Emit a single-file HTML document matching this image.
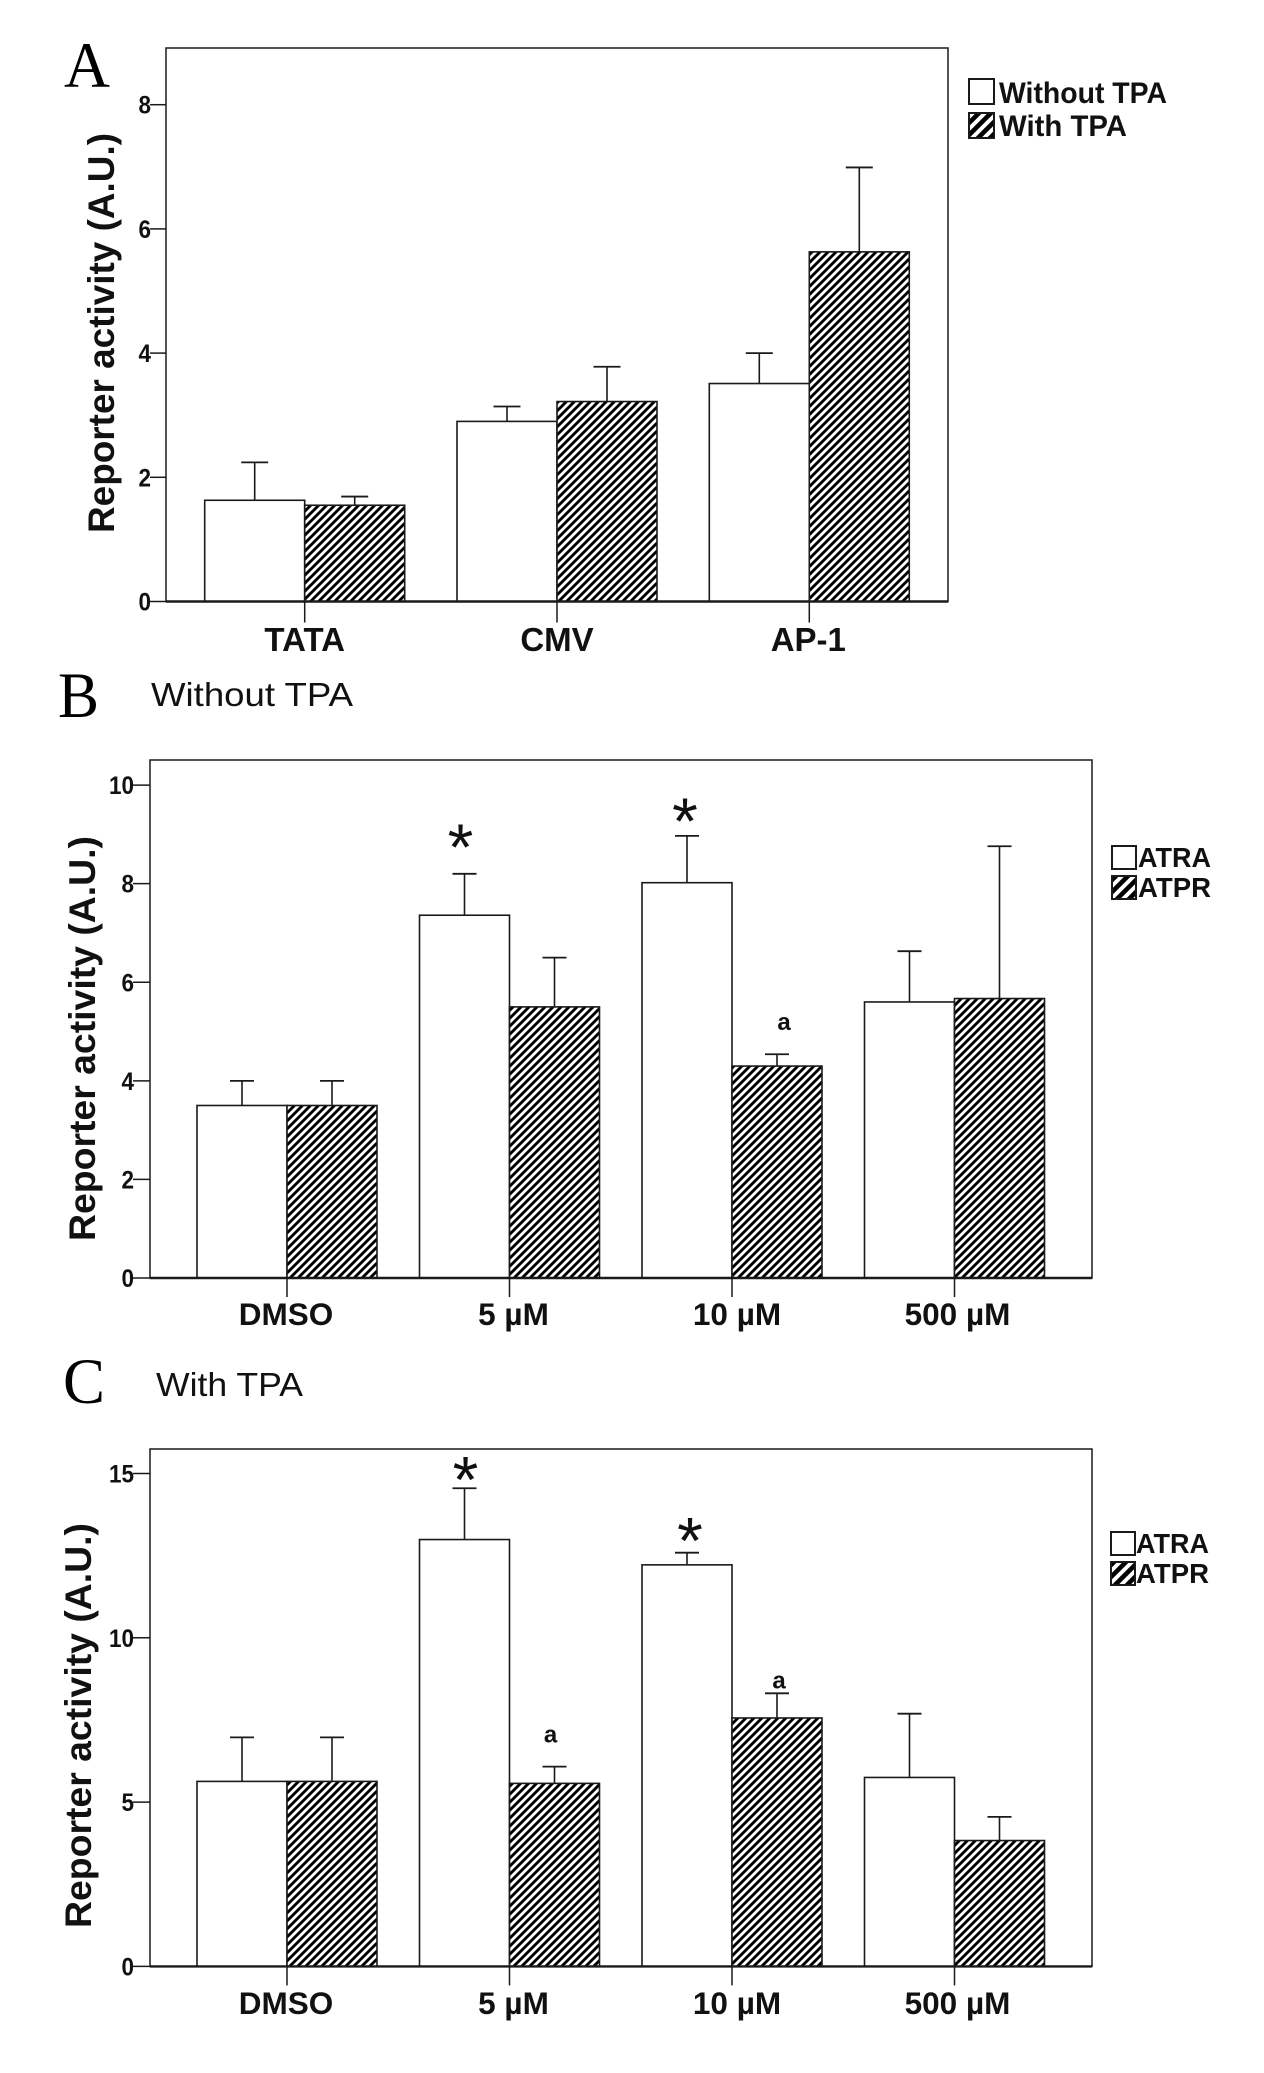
<!DOCTYPE html>
<html lang="en">
<head>
<meta charset="utf-8">
<title>Reporter activity chart</title>
<style>
html,body{margin:0;padding:0;background:#fff;width:1264px;height:2073px;overflow:hidden}
svg{display:block}
text{font-family:"Liberation Sans",Arial,sans-serif;fill:#111}
.bold{font-weight:700}
.serif{font-family:"Liberation Serif","Times New Roman",serif;fill:#000}
</style>
</head>
<body>
<svg id="figure" xmlns="http://www.w3.org/2000/svg" width="1264" height="2073" viewBox="0 0 1264 2073">
  <defs>
    <pattern id="hatch" patternUnits="userSpaceOnUse" width="8" height="8" patternTransform="rotate(0)">
      <rect width="8" height="8" fill="#fff"/>
      <path d="M-2,2 L2,-2 M-2,10 L10,-2 M6,10 L10,6" stroke="#000" stroke-width="2.9" fill="none"/>
    </pattern>
    <pattern id="hatch-legend" patternUnits="userSpaceOnUse" width="12" height="12">
      <rect width="12" height="12" fill="#fff"/>
      <path d="M-3,3 L3,-3 M-3,15 L15,-3 M9,15 L15,9" stroke="#000" stroke-width="4.6" fill="none"/>
    </pattern>
  </defs>
  <g id="panel-a"></g>
  <g id="panel-b"></g>
  <g id="panel-c"></g>

  <text class="serif" x="64" y="87" font-size="65" textLength="46" lengthAdjust="spacingAndGlyphs">A</text>
  <text class="serif" x="58" y="717" font-size="65" textLength="41" lengthAdjust="spacingAndGlyphs">B</text>
  <text class="serif" x="63" y="1403" font-size="65" textLength="42" lengthAdjust="spacingAndGlyphs">C</text>
  <text x="151" y="706" font-size="33" textLength="202" lengthAdjust="spacingAndGlyphs">Without TPA</text>
  <text x="156" y="1396" font-size="33" textLength="147" lengthAdjust="spacingAndGlyphs">With TPA</text>
</svg>
<script>
// Panel A data
const panelACategories = ['TATA', 'CMV', 'AP-1'];
const panelASeriesNames = ['Without TPA', 'With TPA'];
const panelAWithout = [1.63, 2.90, 3.51];
const panelAWith = [1.55, 3.22, 5.63];
const panelAWithoutErrTop = [2.24, 3.14, 4.00];
const panelAWithErrTop = [1.69, 3.78, 6.99];
const panelATicks = [0, 2, 4, 6, 8];
const panelAMarks = [];

// Panel B data
const panelBCategories = ['DMSO', '5 µM', '10 µM', '500 µM'];
const panelBSeriesNames = ['ATRA', 'ATPR'];
const panelBAtra = [3.50, 7.36, 8.02, 5.60];
const panelBAtpr = [3.50, 5.50, 4.30, 5.67];
const panelBAtraErrTop = [4.00, 8.20, 8.97, 6.63];
const panelBAtprErrTop = [4.00, 6.50, 4.54, 8.76];
const panelBTicks = [0, 2, 4, 6, 8, 10];
const panelBMarks = [
  { category: 1, series: 0, label: '*' },
  { category: 2, series: 0, label: '*' },
  { category: 2, series: 1, label: 'a' }
];

// Panel C data
const panelCCategories = ['DMSO', '5 µM', '10 µM', '500 µM'];
const panelCSeriesNames = ['ATRA', 'ATPR'];
const panelCAtra = [5.63, 12.99, 12.22, 5.75];
const panelCAtpr = [5.63, 5.57, 7.56, 3.83];
const panelCAtraErrTop = [6.97, 14.55, 12.59, 7.69];
const panelCAtprErrTop = [6.97, 6.08, 8.31, 4.55];
const panelCTicks = [0, 5, 10, 15];
const panelCMarks = [
  { category: 1, series: 0, label: '*' },
  { category: 2, series: 0, label: '*' },
  { category: 1, series: 1, label: 'a' },
  { category: 2, series: 1, label: 'a' }
];

const SVGNS = 'http://www.w3.org/2000/svg';
function make(parent, tag, attrs, content) {
  const node = document.createElementNS(SVGNS, tag);
  for (const key in attrs) node.setAttribute(key, attrs[key]);
  if (content !== undefined) node.textContent = content;
  parent.appendChild(node);
  return node;
}

function drawPanel(root, data, box) {
  const yScale = v => box.y0 - v * box.pxPerUnit;
  const xCenter = i => box.firstCenter + i * box.step;
  const barX = (i, s) => s === 0 ? xCenter(i) - box.barWidth : xCenter(i);
  const ink = '#1a1a1a';

  const frame = make(root, 'rect', { x: box.left, y: box.top, width: box.right - box.left, height: box.y0 - box.top, fill: '#fff', stroke: ink, 'stroke-width': 1.5 });
  
  

  data.ticks.forEach(t => {
    const tick = make(root, 'line', { x1: box.left - box.tickLen, x2: box.left, y1: yScale(t), y2: yScale(t), stroke: ink, 'stroke-width': 1.5 });
    
    
    const tickText = String(t);
    const label = make(root, 'text', { x: box.left - box.tickLen + 1 - 12.5 * tickText.length, y: yScale(t) + 9, 'font-size': 25, class: 'bold', textLength: 12.5 * tickText.length, lengthAdjust: 'spacingAndGlyphs' }, tickText);
    
    
  });

  const title = make(root, 'text', { x: 0, y: 0, transform: 'translate(' + box.titleX + ' ' + box.titleBottom + ') rotate(-90)', 'font-size': 37, class: 'bold', textLength: box.titleLen, lengthAdjust: 'spacingAndGlyphs' }, 'Reporter activity (A.U.)');
  
  

  data.values.forEach((series, s) => {
    series.forEach((v, i) => {
      const cx = barX(i, s) + box.barWidth / 2;
      const err = data.errs[s][i];
      const stem = make(root, 'line', { x1: cx, x2: cx, y1: yScale(v), y2: yScale(err), stroke: ink, 'stroke-width': 1.6 });
      
      
      const cap = make(root, 'line', { x1: cx - box.capHalf, x2: cx + box.capHalf, y1: yScale(err), y2: yScale(err), stroke: ink, 'stroke-width': 1.8 });
      
      
      const bar = make(root, 'rect', { x: barX(i, s), y: yScale(v), width: box.barWidth, height: box.y0 - yScale(v), fill: s === 0 ? '#fff' : 'url(#hatch)', stroke: ink, 'stroke-width': 1.6 });
      
      
    });
  });

  const axis = make(root, 'line', { x1: box.left, x2: box.right, y1: box.y0, y2: box.y0, stroke: ink, 'stroke-width': 2.4 });
  
  

  data.categories.forEach((c, i) => {
    const tick = make(root, 'line', { x1: xCenter(i), x2: xCenter(i), y1: box.y0, y2: box.y0 + box.xTickLen, stroke: ink, 'stroke-width': 1.5 });
    
    
    const label = make(root, 'text', { x: xCenter(i) + box.catShift[i], y: box.catBaseline, 'text-anchor': 'middle', 'font-size': box.catSize, class: 'bold' }, c);
    
    
  });

  data.marks.forEach((m, n) => {
    const off = box.markOffsets[n];
    const cx = barX(m.category, m.series) + box.barWidth / 2 + off.dx;
    const errY = yScale(data.errs[m.series][m.category]);
    const isStar = m.label === '*';
    const y = errY - off.gap + (isStar ? 23 : 0);
    const mark = make(root, 'text', { x: cx, y: y, 'text-anchor': 'middle', 'font-size': isStar ? 66 : 24, class: isStar ? '' : 'bold' }, m.label);
    
    
  });

  data.seriesNames.forEach((name, s) => {
    const leg = box.legend;
    const swatch = make(root, 'rect', { x: leg.x, y: leg.ys[s], width: leg.w, height: leg.h, fill: s === 0 ? '#fff' : 'url(#hatch-legend)', stroke: ink, 'stroke-width': 2 });
    
    
    const text = make(root, 'text', { x: leg.textX, y: leg.baselines[s], 'font-size': leg.size, class: 'bold', textLength: leg.lengths[s], lengthAdjust: 'spacingAndGlyphs' }, name);
    
    
  });
}

drawPanel(document.getElementById('panel-a'), {
  categories: panelACategories,
  seriesNames: panelASeriesNames,
  values: [panelAWithout, panelAWith],
  errs: [panelAWithoutErrTop, panelAWithErrTop],
  ticks: panelATicks,
  marks: panelAMarks
}, {
  left: 166, right: 948, top: 48, y0: 601.5, pxPerUnit: 62.1,
  firstCenter: 304.7, step: 252.3, barWidth: 100, capHalf: 13.5,
  tickLen: 16, xTickLen: 21, catBaseline: 651, catSize: 33,
  catShift: [0, 0, -1],
  titleX: 114, titleBottom: 533, titleLen: 400, markOffsets: [],
  legend: { x: 969, ys: [79, 113], w: 25, h: 25, textX: 999, baselines: [103, 136], size: 30, lengths: [168, 128] }
});

drawPanel(document.getElementById('panel-b'), {
  categories: panelBCategories,
  seriesNames: panelBSeriesNames,
  values: [panelBAtra, panelBAtpr],
  errs: [panelBAtraErrTop, panelBAtprErrTop],
  ticks: panelBTicks,
  marks: panelBMarks
}, {
  left: 150, right: 1092, top: 760, y0: 1278, pxPerUnit: 49.29,
  firstCenter: 287, step: 222.5, barWidth: 90, capHalf: 12,
  tickLen: 17, xTickLen: 19, catBaseline: 1325, catSize: 31.5,
  catShift: [-1, 4, 5, 3],
  titleX: 95, titleBottom: 1241, titleLen: 405,
  markOffsets: [{ dx: -4, gap: 27 }, { dx: -2, gap: 15 }, { dx: 7, gap: 24 }],
  legend: { x: 1112, ys: [846, 876], w: 24, h: 23, textX: 1138, baselines: [867, 897], size: 28, lengths: [73, 73] }
});

drawPanel(document.getElementById('panel-c'), {
  categories: panelCCategories,
  seriesNames: panelCSeriesNames,
  values: [panelCAtra, panelCAtpr],
  errs: [panelCAtraErrTop, panelCAtprErrTop],
  ticks: panelCTicks,
  marks: panelCMarks
}, {
  left: 150, right: 1092, top: 1449, y0: 1966.4, pxPerUnit: 32.86,
  firstCenter: 287, step: 222.5, barWidth: 90, capHalf: 12,
  tickLen: 17, xTickLen: 19, catBaseline: 2014, catSize: 31.5,
  catShift: [-1, 4, 5, 3],
  titleX: 91, titleBottom: 1928, titleLen: 405,
  markOffsets: [{ dx: 1, gap: 9 }, { dx: 3, gap: 12 }, { dx: -4, gap: 24 }, { dx: 2, gap: 5 }],
  legend: { x: 1111, ys: [1532, 1562], w: 24, h: 23, textX: 1136, baselines: [1553, 1583], size: 28, lengths: [73, 73] }
});
</script>
</body>
</html>
